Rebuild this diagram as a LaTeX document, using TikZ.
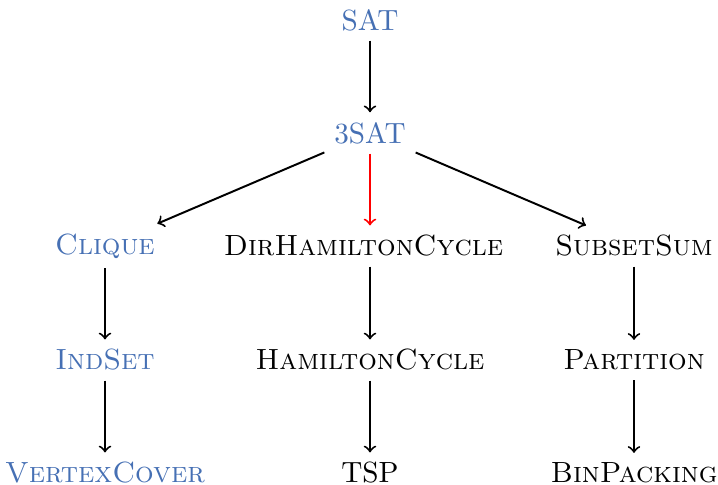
\documentclass[tikz,border=0pt]{standalone}
\definecolor{probblue}{RGB}{70,112,180}
\begin{document}
\begin{tikzpicture}[x=0.35585pt,y=-0.35585pt,
  every node/.style={font=\fontsize{10.4}{12.5}\selectfont},
  prob/.style={inner sep=3.333pt},
  hard/.style={prob,text=probblue},
  link/.style={line width=0.7pt,->}]
\useasboundingbox (0,0) rectangle (718,485);
\node[hard] (sat) at (370,20) {SAT};
\node[hard] (tsat) at (370,133) {3SAT};
\node[hard] (clique) at (105,246) {\textsc{Clique}};
\node[prob] (dhc) at (363.5,246) {\textsc{DirHamiltonCycle}};
\node[prob] (subset) at (634,246) {\textsc{SubsetSum}};
\node[hard] (indset) at (105,360) {\textsc{IndSet}};
\node[prob] (hc) at (370,360) {\textsc{HamiltonCycle}};
\node[prob] (part) at (634,360) {\textsc{Partition}};
\node[hard] (vc) at (105,473) {\textsc{VertexCover}};
\node[prob] (tsp) at (370,473) {TSP};
\node[prob] (bin) at (634,473) {\textsc{BinPacking}};
\draw[link] (sat) -- (tsat);
\draw[link] (tsat) -- (clique);
\draw[link,draw=red] (tsat) -- (tsat |- dhc.north);
\draw[link] (tsat) -- (subset);
\draw[link] (clique) -- (indset);
\draw[link] (indset) -- (vc);
\draw[link] (dhc.south -| hc) -- (hc);
\draw[link] (hc) -- (tsp);
\draw[link] (subset) -- (part);
\draw[link] (part) -- (bin);
\end{tikzpicture}
\end{document}
